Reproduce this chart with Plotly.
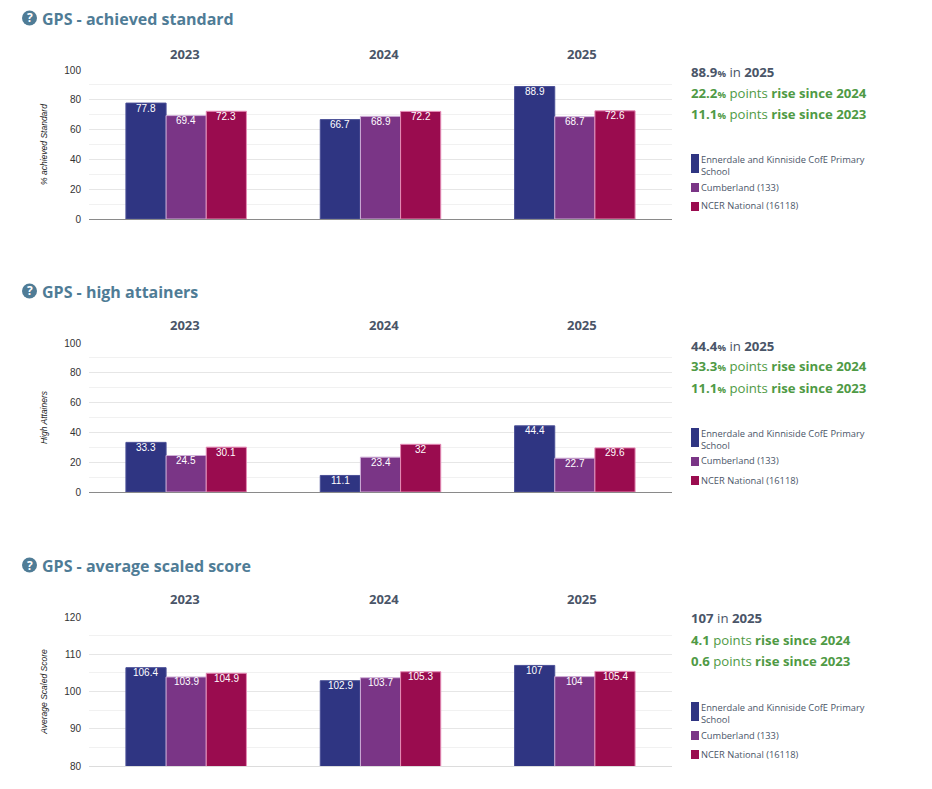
import plotly.graph_objects as go

W, H = 932, 789
years = ["2023", "2024", "2025"]
series_names = ["Ennerdale and Kinniside CofE Primary School", "Cumberland (133)", "NCER National (16118)"]
school_label = "Ennerdale and Kinniside CofE Primary<br>School"
colors = ["#2f3582", "#7a3586", "#9a0c4f"]
edge_colors = ["#4a4f96", "#d0b0d8", "#e58ab5"]

achieved_school = [77.8, 66.7, 88.9]
achieved_la = [69.4, 68.9, 68.7]
achieved_nat = [72.3, 72.2, 72.6]
high_school = [33.3, 11.1, 44.4]
high_la = [24.5, 23.4, 22.7]
high_nat = [30.1, 32, 29.6]
score_school = [106.4, 102.9, 107]
score_la = [103.9, 103.7, 104]
score_nat = [104.9, 105.3, 105.4]

titles = ["GPS - achieved standard", "GPS - high attainers", "GPS - average scaled score"]
y_titles = ["% achieved Standard", "High Attainers", "Average Scaled Score"]
panel_values = [
    [achieved_school, achieved_la, achieved_nat],
    [high_school, high_la, high_nat],
    [score_school, score_la, score_nat],
]
y_ranges = [[0, 100], [0, 100], [80, 120]]
y_dticks = [20, 20, 10]
y_minor = [10, 10, 5]
latest = ["88.9", "44.4", "107"]
unit = ["%", "%", ""]
rise_2024 = ["22.2", "33.3", "4.1"]
rise_2023 = ["11.1", "11.1", "0.6"]

tops = [70, 343, 617]
bottoms = [219, 492, 766]
title_y = [19, 292, 566]
year_y = [54, 325, 599]
year_x = [185, 384, 582]
stat_y = [[72, 93, 114], [346, 366, 388], [618, 640, 661]]
legend_y = [(150, 187, 206), (424, 461, 480), (698, 735, 754)]
X0, X1 = 89, 672
BAR_STEP = 40.2

px = lambda x: x / W
py = lambda y: 1 - y / H
GREY = "#4a5568"
GREEN = "#4f9a45"
TEAL = "#4f7c96"
OS = "Open Sans"
LS = "Liberation Sans"

fig = go.Figure()
ann, shapes = [], []


def text(x, y, s, size, color, family=OS, anchor="left", **kw):
    ann.append(dict(xref="paper", yref="paper", x=px(x), y=py(y), text=s, showarrow=False, xanchor=anchor,
                    yanchor="middle", align="left", font=dict(size=size, color=color, family=family), **kw))


for p in range(3):
    sfx = "" if p == 0 else str(p + 1)
    for s in range(3):
        vals = panel_values[p][s]
        fig.add_trace(go.Bar(
            x=years, y=vals, name=series_names[s], xaxis="x" + sfx, yaxis="y" + sfx, showlegend=False,
            marker=dict(color=colors[s], line=dict(color=edge_colors[s], width=1)),
        ))
        # value labels just under each bar top
        for i, v in enumerate(vals):
            ann.append(dict(xref="x" + sfx, yref="y" + sfx, x=i, y=v, text=str(v), showarrow=False,
                            xshift=(s - 1) * BAR_STEP, yshift=-5, yanchor="middle",
                            font=dict(size=10, color="white", family=LS)))
    fig.update_layout({
        "xaxis" + sfx: dict(domain=[px(X0), px(X1)], anchor="y" + sfx, type="category", showticklabels=False,
                            range=[-0.5, 2.5], automargin=False,
                            ticks="", showgrid=False, showline=True,
                            linecolor="#8a8a8a" if p < 2 else "#dcdcdc", linewidth=1, fixedrange=True),
        "yaxis" + sfx: dict(domain=[py(bottoms[p]), py(tops[p])], anchor="x" + sfx, range=y_ranges[p],
                            automargin=False,
                            dtick=y_dticks[p], gridcolor="#e6e6e6", gridwidth=1, zeroline=False, ticks="",
                            tickfont=dict(size=10, color="#333333", family=LS), ticklabelstandoff=7,
                            minor=dict(dtick=y_minor[p], showgrid=True, gridcolor="#f1f1f1", gridwidth=1, ticks=""),
                            title=dict(text="<i>%s</i>" % y_titles[p],
                                       font=dict(size=8.5, color="#222222", family=LS)), fixedrange=True),
    })
    # section heading with help icon
    shapes.append(dict(type="circle", xref="paper", yref="paper", x0=px(22), x1=px(37),
                       y0=py(title_y[p] + 6.5), y1=py(title_y[p] - 8.5), fillcolor=TEAL, line_width=0))
    text(29.5, title_y[p] - 1, "<b>?</b>", 12, "white", anchor="center")
    text(40, title_y[p], "<b>%s</b>" % titles[p], 16, TEAL)
    # year headings
    for i, yr in enumerate(years):
        text(year_x[i], year_y[p], "<b>%s</b>" % yr, 13, GREY, anchor="center")
    # side statistics
    pct = '<span style="font-size:9.5px">%</span>' if unit[p] else ""
    pct_b = "<b>%s</b>" % pct if pct else ""
    text(689, stat_y[p][0], "<b>%s</b>%s in <b>2025</b>" % (latest[p], pct_b), 13.2, GREY)
    text(689, stat_y[p][1], "<b>%s</b>%s points <b>rise since 2024</b>" % (rise_2024[p], pct_b), 13.2, GREEN)
    text(689, stat_y[p][2], "<b>%s</b>%s points <b>rise since 2023</b>" % (rise_2023[p], pct_b), 13.2, GREEN)
    # key
    ly = legend_y[p]
    swatches = [(ly[0] + 4, ly[0] + 23), (ly[1] - 4, ly[1] + 5), (ly[2] - 4, ly[2] + 5)]
    for s in range(3):
        shapes.append(dict(type="rect", xref="paper", yref="paper", x0=px(691), x1=px(699),
                           y0=py(swatches[s][1]), y1=py(swatches[s][0]), fillcolor=colors[s], line_width=0))
    text(699, ly[0] + 15, school_label, 9.3, GREY)
    text(699, ly[1], series_names[1], 9.3, GREY)
    text(699, ly[2], series_names[2], 9.3, GREY)

fig.update_layout(width=W, height=H, margin=dict(l=0, r=0, t=0, b=0), paper_bgcolor="white", plot_bgcolor="white",
                  barmode="group", bargap=0.38, bargroupgap=0, annotations=ann, shapes=shapes, showlegend=False)
fig.write_html("out.html", config={"displayModeBar": False},
               post_script="document.body.style.margin='0';document.body.style.overflow='hidden';")
